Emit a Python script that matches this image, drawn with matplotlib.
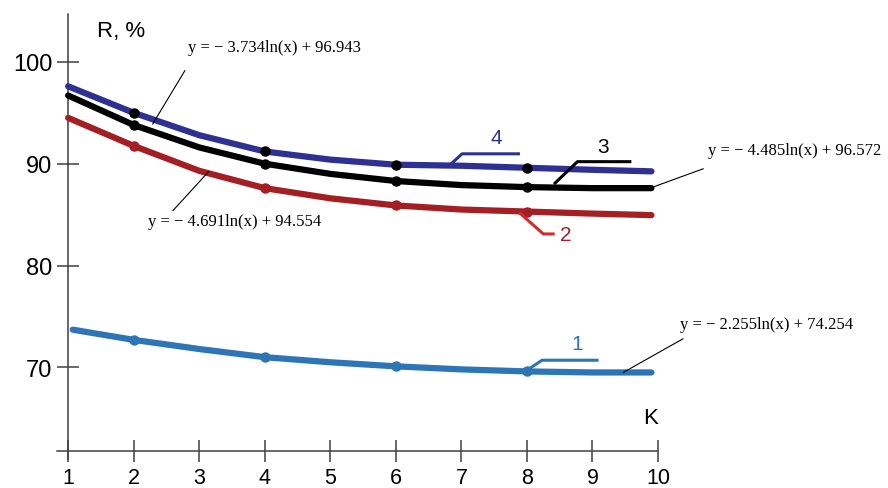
import matplotlib
matplotlib.use("Agg")
import matplotlib.pyplot as plt

# K values and R, % readings for the four curves
k = [1, 2, 3, 4, 5, 6, 7, 8, 9, 9.9]
k1 = [1.07, 2, 3, 4, 5, 6, 7, 8, 9, 9.9]
r4 = [97.6, 95.0, 92.8, 91.2, 90.4, 89.9, 89.8, 89.6, 89.4, 89.25]
r3 = [96.7, 93.8, 91.6, 90.0, 89.0, 88.3, 87.9, 87.7, 87.6, 87.6]
r2 = [94.5, 91.75, 89.3, 87.6, 86.6, 85.9, 85.5, 85.3, 85.1, 84.95]
r1 = [73.7, 72.7, 71.8, 71.0, 70.5, 70.1, 69.8, 69.6, 69.5, 69.5]
marks = [2, 4, 6, 8]

eq4 = "y = − 3.734ln(x) + 96.943"
eq3 = "y = − 4.485ln(x) + 96.572"
eq2 = "y = − 4.691ln(x) + 94.554"
eq1 = "y = − 2.255ln(x) + 74.254"

c4 = "#2e3192"
c3 = "#000000"
c2 = "#a31f24"
c1 = "#2e75b6"

plt.rcParams['font.family'] = ['Liberation Sans', 'DejaVu Sans']

fig = plt.figure(figsize=(8.88, 4.89), dpi=100)
ax = fig.add_axes([0.0642, 0.0593, 0.6768, 0.910])
ax.set_xlim(0.83, 10)
ax.set_ylim(61.0, 104.7)

for s in ['top', 'right']:
    ax.spines[s].set_visible(False)
ax.spines['left'].set_position(('data', 1))
ax.spines['bottom'].set_position(('data', 61.8))
for s in ['left', 'bottom']:
    ax.spines[s].set_color('#404040')
    ax.spines[s].set_linewidth(1.1)

ax.set_xticks(range(1, 11))
ax.set_yticks([70, 80, 90, 100])
ax.tick_params(direction='inout', length=16.5, width=1.1, color='#404040')
ax.tick_params(axis='y', labelsize=17, pad=3)
ax.tick_params(axis='x', labelsize=15.5, pad=3.5)

lw = 4.5
ax.plot(k, r4, color=c4, lw=lw, solid_capstyle='round', zorder=3)
ax.plot(k, r3, color=c3, lw=lw, solid_capstyle='round', zorder=3)
ax.plot(k, r2, color=c2, lw=lw, solid_capstyle='round', zorder=3)
ax.plot(k1, r1, color=c1, lw=lw, solid_capstyle='round', zorder=3)

for xs, ys, mc in [(k, r4, 'black'), (k, r3, 'black'), (k, r2, c2), (k1, r1, c1)]:
    mx = [x for x in xs if x in marks]
    my = [y for x, y in zip(xs, ys) if x in marks]
    ax.plot(mx, my, 'o', color=mc, ms=6.5, zorder=4)

# curve number labels with leaders
ax.plot([6.83, 7.01, 7.87], [89.9, 90.97, 90.97], color=c4, lw=2.2, zorder=5)
ax.text(7.54, 92.6, "4", color=c4, fontsize=15, ha='center', va='center')
ax.plot([8.43, 8.77, 9.57], [88.1, 90.2, 90.2], color=c3, lw=2.2, zorder=5)
ax.text(9.16, 91.65, "3", color=c3, fontsize=15, ha='center', va='center')
ax.plot([7.90, 8.25, 8.40], [85.1, 83.1, 83.1], color='#d42a2a', lw=2.2, zorder=5)
ax.text(8.50, 83.0, "2", color=c2, fontsize=15, ha='left', va='center')
ax.plot([8.02, 8.23, 9.07], [69.8, 70.7, 70.7], color=c1, lw=2.2, zorder=5)
ax.text(8.77, 72.3, "1", color=c1, fontsize=15, ha='center', va='center')

# equations
serif = ['Liberation Serif', 'DejaVu Serif']
ax.text(2.83, 101.5, eq4, family=serif, fontsize=12, ha='left', va='center')
ax.plot([2.78, 2.29], [99.13, 93.9], color='black', lw=0.8, zorder=5)
ax.text(2.22, 84.4, eq2, family=serif, fontsize=12, ha='left', va='center')
ax.plot([2.60, 3.14], [85.4, 89.2], color='black', lw=0.8, zorder=5)
ax.text(10.76, 91.3, eq3, family=serif, fontsize=12, ha='left', va='center')
ax.plot([9.92, 10.69], [87.7, 89.5], color='black', lw=0.8, zorder=5, clip_on=False)
ax.text(10.34, 74.3, eq1, family=serif, fontsize=12, ha='left', va='center')
ax.plot([9.47, 10.38], [69.5, 72.8], color='black', lw=0.8, zorder=5, clip_on=False)

ax.text(1.44, 103.1, "R, %", fontsize=16, ha='left', va='center')
ax.text(9.88, 65.1, "K", fontsize=16, ha='center', va='center')

fig.savefig("out.png", dpi=100)
